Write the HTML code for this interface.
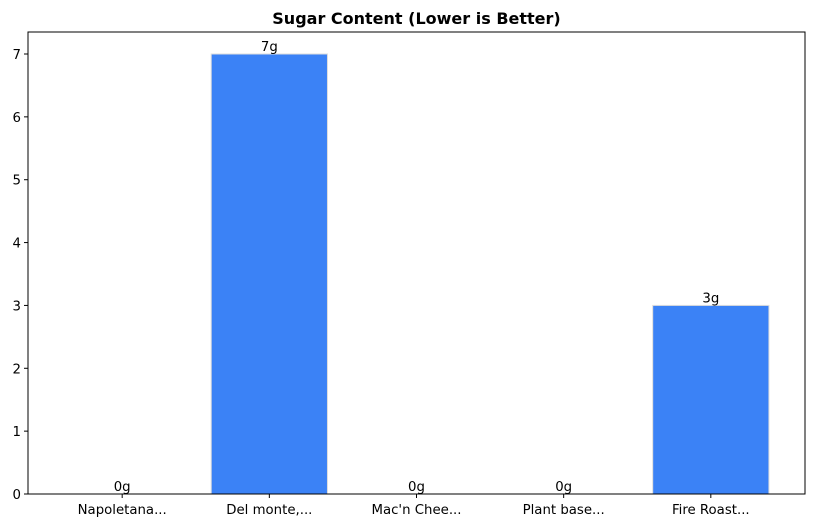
<!DOCTYPE html>
<html><head><meta charset="utf-8"><style>
body{margin:0;background:#fff;font-family:"DejaVu Sans","Liberation Sans",sans-serif;}
</style></head><body>
<svg id="c" width="813" height="528" xmlns="http://www.w3.org/2000/svg" font-family="DejaVu Sans, Liberation Sans, sans-serif"></svg>
<script>
const categories=["Napoletana...","Del monte,...","Mac'n Chee...","Plant base...","Fire Roast..."];
const sugarValues=[0,7,0,0,3];
const valueLabels=["0g","7g","0g","0g","3g"];
const yTicks=[0,1,2,3,4,5,6,7];
const svg=document.getElementById('c');
const NS='http://www.w3.org/2000/svg';
const L=28,R=805,T=32,B=494;
const yMax=7.35, xMin=-0.64, xMax=categories.length-1+0.64;
const y=v=>B-(v/yMax)*(B-T);
const x=i=>L+(i-xMin)/(xMax-xMin)*(R-L);
const bw=0.79*(R-L)/(xMax-xMin);
function el(t,a,txt){const e=document.createElementNS(NS,t);for(const k in a)e.setAttribute(k,a[k]);if(txt!==undefined)e.textContent=txt;svg.appendChild(e);return e;}
const title=el('text',{x:(L+R)/2,y:24,'text-anchor':'middle','font-size':16,'font-weight':'bold',fill:'#000'},'Sugar Content (Lower is Better)');


sugarValues.forEach((v,i)=>{
  const r=el('rect',{x:x(i)-bw/2,y:y(v),width:bw,height:B-y(v),fill:'#3b82f6',stroke:'#dddddd','stroke-width':1});
  
  
  const t=el('text',{x:x(i),y:y(v)-3,'text-anchor':'middle','font-size':13.3,fill:'#000'},valueLabels[i]);
  
  
  const tk=el('line',{x1:x(i),x2:x(i),y1:B,y2:B+4,stroke:'#000'});
  
  
  const tl=el('text',{x:x(i),y:B+20,'text-anchor':'middle','font-size':13.3,fill:'#000'},categories[i]);
  
  
});
yTicks.forEach(v=>{
  const tk=el('line',{x1:L-4,x2:L,y1:y(v),y2:y(v),stroke:'#000'});
  
  
  const tl=el('text',{x:L-7,y:y(v)+5,'text-anchor':'end','font-size':13.3,fill:'#000'},String(v));
  
  
});
const fr=el('rect',{x:L,y:T,width:R-L,height:B-T,fill:'none',stroke:'#000','stroke-width':1});


</script>
</body></html>
